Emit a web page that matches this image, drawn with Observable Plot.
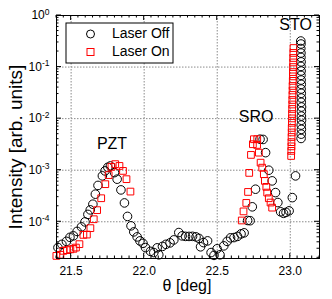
<!DOCTYPE html>
<html><head><meta charset="utf-8">
<script src="https://cdn.jsdelivr.net/npm/d3@7"></script>
<script src="https://cdn.jsdelivr.net/npm/@observablehq/plot@0.6"></script>
<style>
body{margin:0;background:#fff}
svg{font-family:"Liberation Sans",Arial,Helvetica,sans-serif}
</style>
</head><body><div id="chart"></div>
<script>
// Laser Off (black circles)
const offTheta = [21.410,21.437,21.468,21.492,21.516,21.541,21.571,21.595,21.615,21.631,21.649,21.666,21.684,21.714,21.732,21.751,21.769,21.797,21.815,21.841,21.865,21.886,21.910,21.929,21.952,21.971,21.992,22.009,22.043,22.066,22.089,22.100,22.125,22.149,22.177,22.203,22.237,22.260,22.283,22.307,22.331,22.355,22.375,22.386,22.406,22.434,22.458,22.478,22.499,22.519,22.545,22.568,22.591,22.615,22.639,22.663,22.684,22.708,22.725,22.740,22.762,22.793,22.814,22.831,22.853,22.876,22.899,22.915,22.934,22.954,22.971,22.992,23.014,23.036,
  23.074,23.075,23.076,23.075,23.077,23.076,23.076,23.077,23.075,23.076,23.075,23.074,23.075,23.074,23.073,23.074,23.073,23.074,23.073,23.073,23.072,23.073,23.072];
const offIntensity = [3.16e-5,3.65e-5,4.17e-5,4.99e-5,5.33e-5,6.5e-5,7.96e-5,9.95e-5,1.39e-4,1.70e-4,2.19e-4,3.43e-4,5.07e-4,7.76e-4,9.69e-4,1.14e-3,1.21e-3,8.98e-4,6.70e-4,4.15e-4,2.32e-4,1.27e-4,8.34e-5,6.37e-5,5.09e-5,4.26e-5,3.81e-5,3.16e-5,2.67e-5,2.53e-5,3.12e-5,2.29e-5,3.33e-5,3.65e-5,3.90e-5,4.45e-5,6.18e-5,5.33e-5,5.21e-5,5.2e-5,5.22e-5,5.09e-5,4.76e-5,3.27e-5,3.95e-5,4.26e-5,2.53e-5,2.23e-5,2.99e-5,2.29e-5,3.41e-5,4.17e-5,4.88e-5,4.94e-5,5.21e-5,5.83e-5,6.10e-5,1.06e-4,1.05e-4,1.95e-4,4.28e-4,3.99e-3,3.95e-3,2.19e-3,1.0e-3,6.21e-4,3.68e-4,2.36e-4,1.56e-4,1.46e-4,1.52e-4,1.63e-4,2.94e-4,7.76e-4,
  4.13e-3,5.0e-3,6.2e-3,7.5e-3,9.3e-3,1.12e-2,1.39e-2,1.68e-2,2.07e-2,2.51e-2,3.1e-2,3.75e-2,4.62e-2,5.6e-2,6.9e-2,8.4e-2,0.103,0.126,0.154,0.187,0.229,0.28,0.32];

// Laser On (red squares)
const onTheta = [21.399,21.427,21.447,21.471,21.495,21.516,21.533,21.557,21.584,21.608,21.632,21.655,21.678,21.706,21.734,21.757,21.776,21.802,21.831,21.855,21.879,21.906,
  22.668,22.680,22.699,22.711,22.719,22.731,22.744,22.751,22.774,22.773,22.785,22.797,22.808,22.819,22.826,22.836,22.842,22.853,22.865,22.876,
  23.006,23.007,23.008,23.008,23.009,23.010,23.010,23.011,23.012,23.012,23.013,23.014,23.014,23.015,23.016,23.016,23.017,23.018,23.018,23.019,23.020,23.020,23.021,23.022];
const onIntensity = [2.18e-5,2.29e-5,2.73e-5,2.82e-5,2.92e-5,2.99e-5,3.16e-5,3.68e-5,5.57e-5,5.65e-5,7.52e-5,1.12e-4,1.68e-4,2.86e-4,5.36e-4,8.04e-4,1.16e-3,1.31e-3,1.21e-3,9.69e-4,6.70e-4,3.85e-4,
  1.06e-4,1.59e-4,2.32e-4,3.79e-4,8.87e-4,1.98e-3,3.19e-3,3.99e-3,3.99e-3,3.09e-3,2.19e-3,1.40e-3,1.12e-3,8.36e-4,6.21e-4,4.75e-4,3.68e-4,2.86e-4,2.36e-4,1.88e-4,
  1.89e-3,2.37e-3,2.9e-3,3.5e-3,4.4e-3,5.4e-3,6.6e-3,8.3e-3,1.01e-2,1.23e-2,1.54e-2,1.88e-2,2.3e-2,2.88e-2,3.52e-2,4.3e-2,5.4e-2,6.6e-2,8.0e-2,0.100,0.123,0.150,0.188,0.234];

const seriesNames = ["Laser Off", "Laser On"];
const xTicks = [21.5, 22.0, 22.5, 23.0];
const yTicks = [1e-4, 1e-3, 1e-2, 1e-1, 1];
const peakNames = ["PZT", "SRO", "STO"];
const peakTheta = [21.78, 22.766, 23.036];
const peakIntensity = [3.3e-3, 1.08e-2, 0.655];

const off = offTheta.map((t, i) => ({theta: t, I: offIntensity[i]}));
const on = onTheta.map((t, i) => ({theta: t, I: onIntensity[i]}));
const peaks = peakNames.map((n, i) => ({name: n, theta: peakTheta[i], I: peakIntensity[i]}));

const gridStyle = {stroke: "#8a8a8a", strokeOpacity: 1, strokeWidth: 1, strokeDasharray: "1.5,1.5"};

const plot = Plot.plot({
  width: 332, height: 299,
  marginLeft: 56, marginRight: 13, marginTop: 15, marginBottom: 41,
  style: {background: "white", color: "black", fontFamily: '"Liberation Sans",Arial,sans-serif', fontSize: "12px"},
  x: {domain: [21.4, 23.2]},
  y: {type: "log", domain: [1.94e-5, 1]},
  marks: [
    Plot.gridX(xTicks, gridStyle),
    Plot.gridY(yTicks.slice(0, 4), gridStyle),
    Plot.dot(off, {x: "theta", y: "I", r: 4.3, fill: "none", stroke: "black", strokeWidth: 1}),
    Plot.dot(on, {x: "theta", y: "I", symbol: "square", r: 3.8, fill: "none", stroke: "#ff0000", strokeWidth: 1}),
    Plot.text(peaks, {x: "theta", y: "I", text: "name", fontSize: 16, fill: "black"}),
    Plot.axisX(xTicks, {tickSize: 0, tickPadding: 8, tickFormat: d => d.toFixed(1), label: null, fontSize: 12}),
    Plot.axisY(yTicks, {tickSize: 0, tickPadding: 7, tickFormat: d => "10|" + Math.round(Math.log10(d)), label: null, fontSize: 12}),
    Plot.frame({stroke: "black", strokeWidth: 1})
  ]
});

const svg = d3.select(plot);
// superscript exponents on y tick labels
svg.selectAll('g[aria-label="y-axis tick label"] text').each(function() {
  const t = d3.select(this);
  const parts = t.text().split("|");
  t.text(parts[0]);
  t.append("tspan").attr("dy", "-0.55em").attr("font-size", "8.5px").text(parts[1]);
});

// inward ticks drawn with the plot's scales
const xs = plot.scale("x"), ys = plot.scale("y");
const edgeL = 56, edgeR = 332 - 13, edgeT = 15, edgeB = 299 - 41;
const tg = svg.append("g").attr("stroke", "black").attr("stroke-width", 1);
const minorX = d3.range(21.4, 23.2001, 0.05);
minorX.forEach(v => {
  const px = xs.apply(v);
  const major = xTicks.some(t => Math.abs(t - v) < 1e-6);
  const len = major ? 5 : 2.5;
  tg.append("line").attr("x1", px).attr("x2", px).attr("y1", edgeB).attr("y2", edgeB - len);
  tg.append("line").attr("x1", px).attr("x2", px).attr("y1", edgeT).attr("y2", edgeT + len);
});
const minorY = [];
for (let e = -5; e <= 0; e++) for (let k = 1; k <= 9; k++) {
  const v = k * Math.pow(10, e);
  if (v >= 1.94e-5 && v <= 1) minorY.push([v, k === 1]);
}
minorY.forEach(([v, major]) => {
  const py = ys.apply(v);
  const len = major ? 5 : 2.5;
  tg.append("line").attr("x1", edgeL).attr("x2", edgeL + len).attr("y1", py).attr("y2", py);
  tg.append("line").attr("x1", edgeR).attr("x2", edgeR - len).attr("y1", py).attr("y2", py);
});

// axis labels
svg.append("text").attr("transform", "translate(17,147) rotate(-90)")
  .attr("text-anchor", "middle").attr("dominant-baseline", "middle")
  .attr("font-size", "19px").attr("fill", "black").text("Intensity [arb. units]");
svg.append("text").attr("x", 187).attr("y", 287)
  .attr("text-anchor", "middle").attr("dominant-baseline", "middle")
  .attr("font-size", "16px").attr("fill", "black").text("θ [deg]");

// legend
const lg = svg.append("g");
lg.append("rect").attr("x", 66).attr("y", 23).attr("width", 107).attr("height", 40)
  .attr("fill", "white").attr("stroke", "black").attr("stroke-width", 1);
lg.append("circle").attr("cx", 90.5).attr("cy", 34).attr("r", 4).attr("fill", "none").attr("stroke", "black");
lg.append("rect").attr("x", 87).attr("y", 48.5).attr("width", 7).attr("height", 7).attr("fill", "none").attr("stroke", "#ff0000");
seriesNames.forEach((n, i) => {
  lg.append("text").attr("x", 112).attr("y", 34 + i * 18).attr("dominant-baseline", "middle")
    .attr("text-anchor", "start")
    .attr("font-size", "14px").attr("fill", "black").text(n);
});

document.getElementById("chart").appendChild(plot);
</script>
</body></html>
